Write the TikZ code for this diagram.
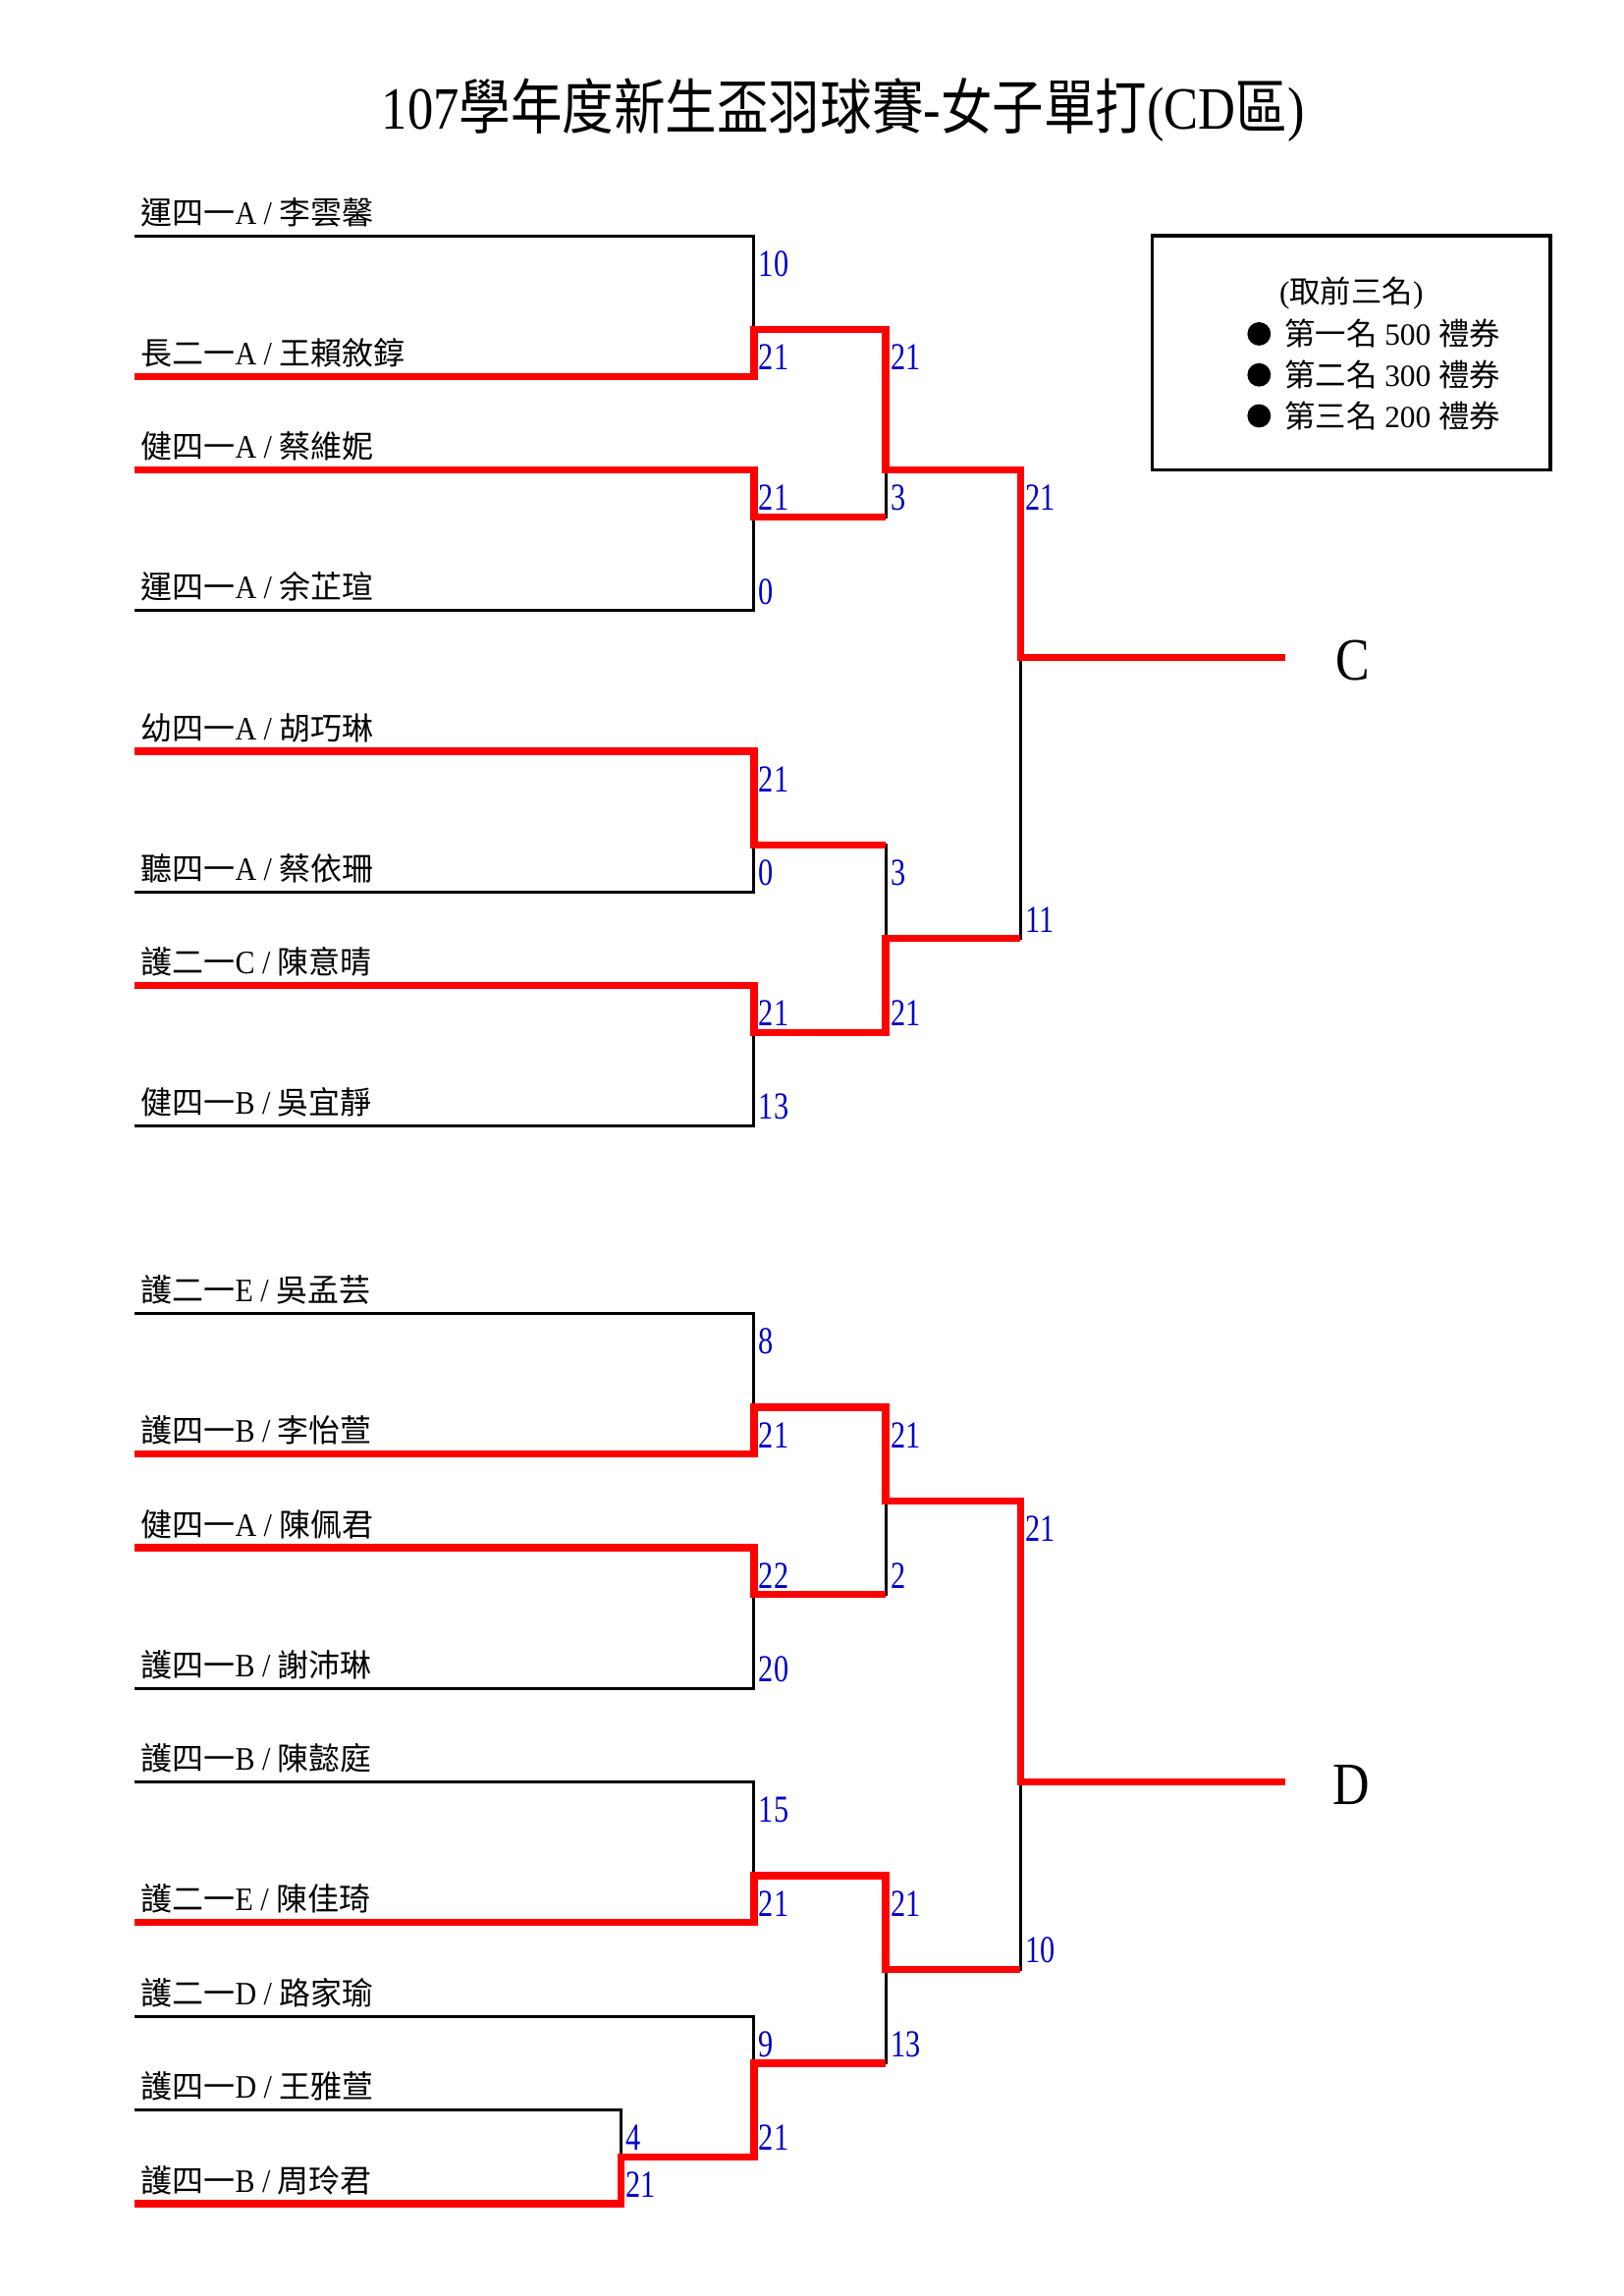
\documentclass[tikz,border=0pt]{standalone}
\usepackage{fontspec}
\setmainfont{Liberation Serif}
\newfontfamily\cjk{Noto Sans CJK TC}
\newfontfamily\cjkt[FakeStretch=0.86]{Noto Sans CJK TC}
\newfontfamily\latn[FakeStretch=0.9]{Liberation Serif}
\newfontfamily\latt[FakeStretch=0.86]{Liberation Serif}
\newfontfamily\digf[FakeStretch=0.78]{Liberation Serif}
\newfontfamily\bigf[FakeStretch=0.85]{Liberation Serif}
\definecolor{winred}{RGB}{255,0,0}
\definecolor{scoreblue}{RGB}{0,0,200}
\newcommand\nm[3]{{\cjk #1}{\latn\fontsize{12}{13}\selectfont #2 / }{\cjk #3}}
\begin{document}
\begin{tikzpicture}[x=0.53677pt,y=-0.53677pt,
  blk/.style={line width=1.1pt,black},
  win/.style={line width=2.6pt,winred,line join=miter},
  pname/.style={anchor=base west,inner sep=0pt,font=\fontsize{11.5}{13}\selectfont},
  score/.style={anchor=west,inner sep=0pt,text=scoreblue,font=\digf\fontsize{14}{16}\selectfont},
  bigl/.style={inner sep=0pt,font=\bigf\fontsize{22}{26}\selectfont},
  legt/.style={anchor=west,inner sep=0pt,font=\fontsize{11.3}{13}\selectfont}]
\useasboundingbox (0,0) rectangle (1109,1568);
% title
\node[inner sep=0pt,font=\fontsize{22}{26}\selectfont] (title) at (576,75)
  {{\latt 107}{\cjkt 學年度新生盃羽球賽}{\latt -}{\cjkt 女子單打}{\latt (CD}{\cjkt 區}{\latt )}};
% legend
\draw[line width=1.2pt] (787,161) rectangle (1059,321);
\node[inner sep=0pt,font=\fontsize{11.3}{13}\selectfont] (lg0) at (923,200) {({\cjk 取前三名})};
\fill (860,228) circle (8);
\fill (860,256) circle (8);
\fill (860,284) circle (8);
\node[legt] (lg1) at (877,228) {{\cjk 第一名} 500 {\cjk 禮券}};
\node[legt] (lg2) at (877,256) {{\cjk 第二名} 300 {\cjk 禮券}};
\node[legt] (lg3) at (877,284) {{\cjk 第三名} 200 {\cjk 禮券}};
% black bracket, top
\draw[blk] (92,161) -- (515,161) -- (515,257) -- (92,257);
\draw[blk] (92,321) -- (515,321) -- (515,417) -- (92,417);
\draw[blk] (92,513) -- (515,513) -- (515,609) -- (92,609);
\draw[blk] (92,673) -- (515,673) -- (515,769) -- (92,769);
\draw[blk] (515,225) -- (605,225) -- (605,353) -- (515,353);
\draw[blk] (515,577) -- (605,577) -- (605,705) -- (515,705);
\draw[blk] (605,321) -- (697,321) -- (697,641) -- (605,641);
\draw[blk] (697,449) -- (878,449);
% black bracket, bottom
\draw[blk] (92,897) -- (515,897) -- (515,993) -- (92,993);
\draw[blk] (92,1057) -- (515,1057) -- (515,1153) -- (92,1153);
\draw[blk] (92,1217) -- (515,1217) -- (515,1313) -- (92,1313);
\draw[blk] (92,1377) -- (515,1377) -- (515,1473) -- (424,1473);
\draw[blk] (92,1441) -- (424,1441) -- (424,1505) -- (92,1505);
\draw[blk] (515,961) -- (605,961) -- (605,1089) -- (515,1089);
\draw[blk] (515,1281) -- (605,1281) -- (605,1409) -- (515,1409);
\draw[blk] (605,1025) -- (697,1025) -- (697,1345) -- (605,1345);
\draw[blk] (697,1217) -- (878,1217);
% winners, top
\draw[win] (92,257) -- (515,257) -- (515,225) -- (605,225) -- (605,321) -- (697,321) -- (697,449) -- (878,449);
\draw[win] (92,321) -- (515,321) -- (515,353) -- (605,353);
\draw[win] (92,513) -- (515,513) -- (515,577) -- (605,577);
\draw[win] (92,673) -- (515,673) -- (515,705) -- (605,705) -- (605,641) -- (697,641);
% winners, bottom
\draw[win] (92,993) -- (515,993) -- (515,961) -- (605,961) -- (605,1025) -- (697,1025) -- (697,1217) -- (878,1217);
\draw[win] (92,1057) -- (515,1057) -- (515,1089) -- (605,1089);
\draw[win] (92,1313) -- (515,1313) -- (515,1281) -- (605,1281) -- (605,1345) -- (697,1345);
\draw[win] (92,1505) -- (424,1505) -- (424,1473) -- (515,1473) -- (515,1409) -- (605,1409);
% C and D
\node[bigl] (C) at (924,451) {C};
\node[bigl] (D) at (923,1219) {D};
% player names
\foreach \y/\a/\b/\c [count=\i] in {
  161/運四一/A/李雲馨, 257/長二一/A/王賴敘錞, 321/健四一/A/蔡維妮, 417/運四一/A/余芷瑄,
  513/幼四一/A/胡巧琳, 609/聽四一/A/蔡依珊, 673/護二一/C/陳意晴, 769/健四一/B/吳宜靜,
  897/護二一/E/吳孟芸, 993/護四一/B/李怡萱, 1057/健四一/A/陳佩君, 1153/護四一/B/謝沛琳,
  1217/護四一/B/陳懿庭, 1313/護二一/E/陳佳琦, 1377/護二一/D/路家瑜, 1441/護四一/D/王雅萱,
  1505/護四一/B/周玲君}
  \node[pname] (p\i) at (96,\y-8) {\nm{\a}{\b}{\c}};
% scores
\foreach \x/\k/\s [count=\i] in {
  515/0/10, 515/2/21, 515/5/21, 515/7/0, 515/11/21, 515/13/0, 515/16/21, 515/18/13,
  605/2/21, 605/5/3, 605/13/3, 605/16/21, 697/5/21, 697/14/11,
  515/23/8, 515/25/21, 515/28/22, 515/30/20, 515/33/15, 515/35/21, 515/38/9, 515/40/21,
  424/40/4, 424/41/21, 605/25/21, 605/28/2, 605/35/21, 605/38/13, 697/27/21, 697/36/10}
  \node[score] (s\i) at ({\x+3},{180+32*\k}) {\s};
\end{tikzpicture}
\end{document}
